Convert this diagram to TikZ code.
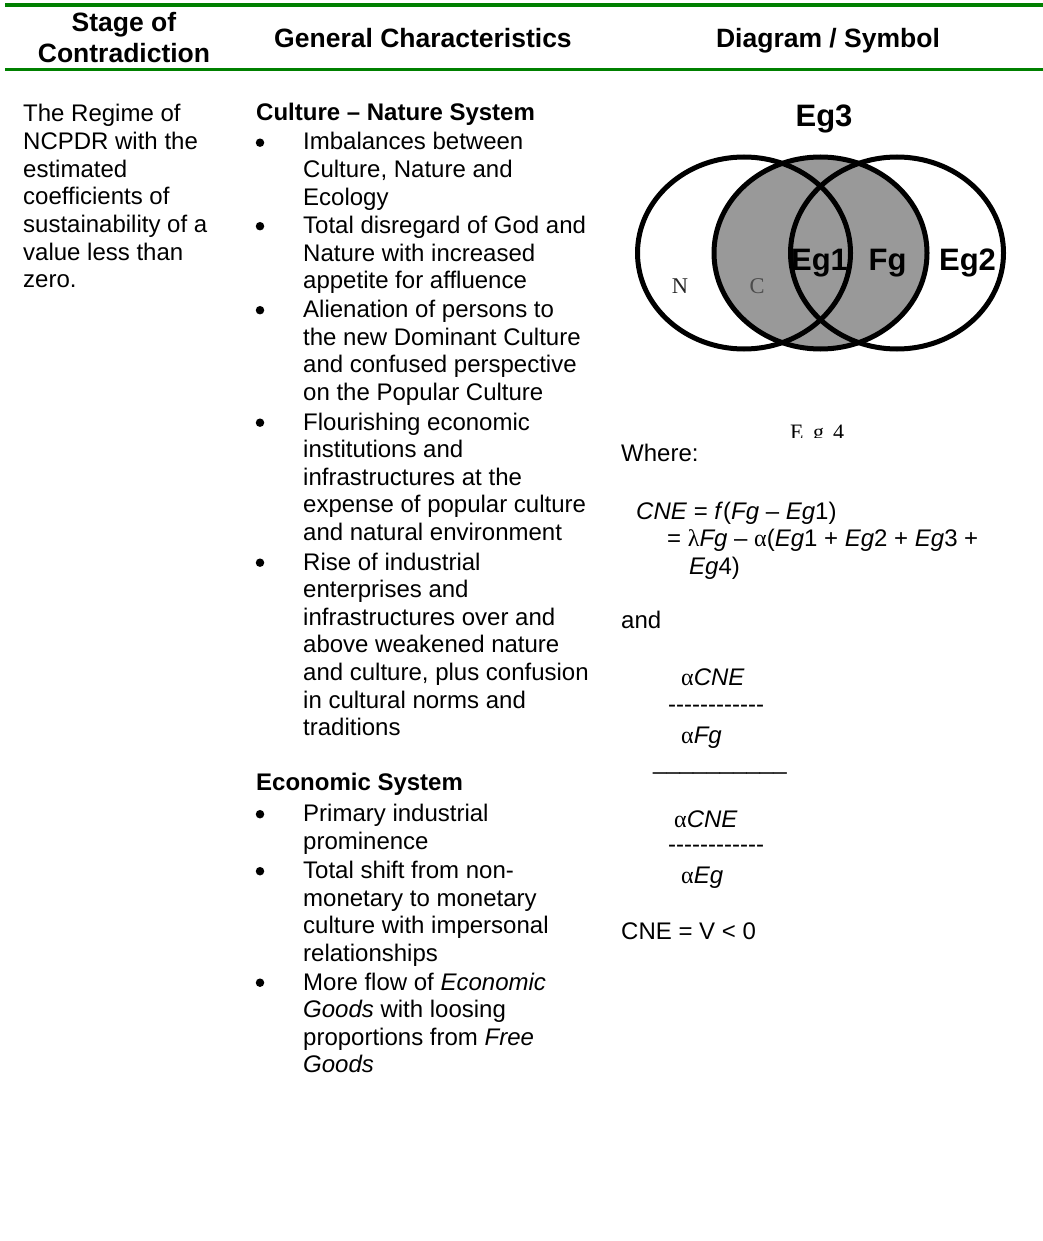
\documentclass[tikz,border=0pt]{standalone}
\usepackage{fontspec}
\setmainfont{Liberation Sans}
\newfontfamily\timesfont{Liberation Serif}

\definecolor{rulegreen}{RGB}{0,128,0}
\definecolor{venngray}{RGB}{153,153,153}
\newcommand{\grk}[1]{{\timesfont #1}}
\newcommand{\dashrow}{\foreach \k in {1,...,12}{-\kern0pt}}
\newcommand{\bulletitem}[3]{%
	\node[dot] (#1) at (260,#2-7.3) {};
	\foreach \t [count=\i from 0] in {#3}
		\node[txt] (#1-\i) at (303,#2+27.6*\i) {\t};}

\begin{document}
\begin{tikzpicture}[x=1pt, y=-1pt,
		txt/.style={anchor=base west, inner sep=0pt, font=\fontsize{24}{27.6}\selectfont},
		head/.style={anchor=base, inner sep=0pt, font=\fontsize{26.5}{31}\selectfont\bfseries},
		eglabel/.style={anchor=base, inner sep=0pt, font=\fontsize{31}{36}\selectfont\bfseries},
		serifmark/.style={anchor=base, inner sep=0pt, font=\timesfont\fontsize{22.5}{25}\selectfont},
		dot/.style={circle, fill=black, inner sep=0pt, minimum size=8.5pt},
		venn/.style={line width=5pt}]
	\fill[white] (0,0) rectangle (1043,1241);
	\useasboundingbox (0,0) rectangle (1043,1241);

	\draw[rulegreen, line width=4pt] (5,5.3) -- (1043,5.3);
	\draw[rulegreen, line width=3pt] (5,69.5) -- (1043,69.5);
	\node[head] (stage) at (124,31.5) {Stage of};
	\node[head] (contra) at (124,62.5) {Contradiction};
	\node[head] (general) at (423,48) {General Characteristics};
	\node[head] (symbol) at (828,48) {Diagram / Symbol};

	\foreach \t [count=\i from 0] in {The Regime of, NCPDR with the, estimated, coefficients of, sustainability of a, value less than, zero.}
		\node[txt] (regime-\i) at (23,122+27.6*\i) {\t};

	\node[txt, font=\fontsize{24}{27.6}\selectfont\bfseries] (culture) at (256,121) {Culture – Nature System};
	\bulletitem{imb}{150}{Imbalances between, {Culture, Nature and}, Ecology}
	\bulletitem{god}{233.5}{Total disregard of God and, Nature with increased, appetite for affluence}
	\bulletitem{alien}{317.5}{Alienation of persons to, the new Dominant Culture, and confused perspective, on the Popular Culture}
	\bulletitem{flour}{430}{Flourishing economic, institutions and, infrastructures at the, expense of popular culture, and natural environment}
	\bulletitem{rise}{570}{Rise of industrial, enterprises and, infrastructures over and, above weakened nature, {and culture, plus confusion}, in cultural norms and, traditions}

	\node[txt, font=\fontsize{24}{27.6}\selectfont\bfseries] (economic) at (256,790) {Economic System};
	\bulletitem{prim}{821.5}{Primary industrial, prominence}
	\bulletitem{shift}{878.5}{Total shift from non-, monetary to monetary, culture with impersonal, relationships}
	\bulletitem{flow}{990}{More flow of \textit{Economic}, \textit{Goods} with loosing, proportions from \textit{Free}, \textit{Goods}}

	\fill[venngray] (820.5,253) ellipse [x radius=106.5pt, y radius=96pt];
	\draw[venn] (744,253) ellipse [x radius=106.5pt, y radius=96pt];
	\draw[venn] (820.5,253) ellipse [x radius=106.5pt, y radius=96pt];
	\draw[venn] (897,253) ellipse [x radius=106.5pt, y radius=96pt];
	\node[eglabel] (eg3) at (824,127) {Eg3};
	\node[eglabel] (eg1) at (819.5,270) {Eg1};
	\node[eglabel] (fg) at (887.5,270) {Fg};
	\node[eglabel] (eg2) at (967.5,270) {Eg2};
	\node[serifmark, text=black!85] (nat) at (680,293.5) {N};
	\node[serifmark, text=black!70] (cul) at (757,293.5) {C};
	\begin{scope}
		\clip (780,415) rectangle (860,437.5);
		\node[anchor=base west, inner sep=0pt, font=\timesfont\fontsize{22}{24}\selectfont] (eg4) at (790,439.5) {E\hspace{9.6pt}g\hspace{9pt}4};
	\end{scope}

	\node[txt] (where) at (621,461) {Where:};
	\node[txt] (cne) at (636,519) {\textit{CNE} = \textit{f}(\textit{Fg} – \textit{Eg}1)};
	\node[txt] (lambda) at (667,546.5) {= \grk{λ}\textit{Fg} – \grk{α}(\textit{Eg}1 + \textit{Eg}2 + \textit{Eg}3 +};
	\node[txt] (eg4sum) at (689,574) {\textit{Eg}4)};
	\node[txt] (and) at (621,628) {and};
	\node[txt] (topcne) at (681,685.5) {\grk{α}\textit{CNE}};
	\node[txt] (topdash) at (668,712.5) {\dashrow};
	\node[txt] (topfg) at (681,743) {\grk{α}\textit{Fg}};
	\node[txt] (bar) at (653,769) {\_\_\_\_\_\_\_\_\_\_};
	\node[txt] (botcne) at (674,827) {\grk{α}\textit{CNE}};
	\node[txt] (botdash) at (668,852.5) {\dashrow};
	\node[txt] (boteg) at (681,883) {\grk{α}\textit{Eg}};
	\node[txt] (value) at (621,939) {CNE = V < 0};
\end{tikzpicture}
\end{document}
